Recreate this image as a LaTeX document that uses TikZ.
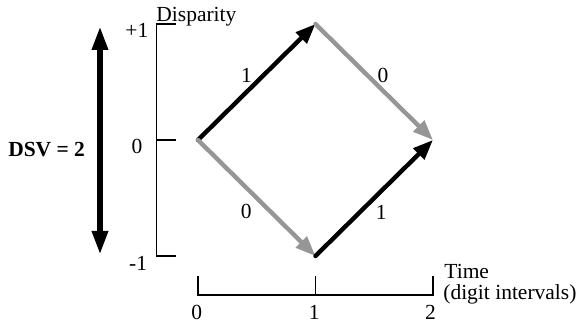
\documentclass[tikz,border=0pt]{standalone}
\usepackage{fontspec}
\setmainfont{Liberation Serif}
\usetikzlibrary{arrows.meta}
\definecolor{zerogray}{RGB}{150,150,150}
\tikzset{
  one/.style={line width=2.2pt, draw=black, line cap=round, -{Triangle[length=10pt,width=7.5pt]}},
  zero/.style={one, draw=zerogray},
  axis/.style={line width=0.75pt},
  dsv/.style={line width=3pt, {Triangle[length=12pt,width=7.5pt]}-{Triangle[length=12pt,width=7.5pt]}}
}
\begin{document}
\begin{tikzpicture}[x=58.75pt, y=58pt, every node/.style={font=\fontsize{10.75}{13}\selectfont, inner sep=0pt}]
  \useasboundingbox (-1.685,-1.603) rectangle (3.277,1.207);

  % disparity states
  \coordinate (start) at (0,0);
  \coordinate (high) at (1,1);
  \coordinate (end) at (2,0);
  \coordinate (low) at (1,-1);

  % transitions
  \draw[one] (start) -- (high);
  \draw[zero] (high) -- (end);
  \draw[zero] (start) -- (low);
  \draw[one] (low) -- (end);
  \node (bitA) at (0.414,0.56) {1};
  \node (bitB) at (1.574,0.56) {0};
  \node (bitC) at (0.41,-0.62) {0};
  \node (bitD) at (1.56,-0.62) {1};

  % disparity axis
  \draw[axis] (-0.19,1) -- (-0.351,1) -- (-0.351,-1) -- (-0.19,-1);
  \draw[axis] (-0.351,0) -- (-0.19,0);
  \node[anchor=base west] (dispname) at (-0.357,1.02) {Disparity};
  \node (dplus) at (-0.52,0.945) {+1};
  \node (dzero) at (-0.52,-0.058) {0};
  \node (dminus) at (-0.51,-1.06) {-1};

  % time axis
  \draw[axis] (0,-1.172) -- (0,-1.336) -- (2,-1.336) -- (2,-1.172);
  \draw[axis] (1,-1.336) -- (1,-1.172);
  \node (tzero) at (-0.01,-1.49) {0};
  \node (tone) at (0.99,-1.49) {1};
  \node (ttwo) at (1.98,-1.49) {2};
  \node[anchor=base west] (timename) at (2.094,-1.19) {Time};
  \node[anchor=base west] (timeunit) at (2.085,-1.375) {(digit intervals)};

  % digital sum variation
  \draw[dsv] (-0.834,0.983) -- (-0.834,-0.991);
  \node[font=\fontsize{10.75}{13}\selectfont\bfseries] (dsvlabel) at (-1.288,-0.082) {DSV = 2};
\end{tikzpicture}
\end{document}
